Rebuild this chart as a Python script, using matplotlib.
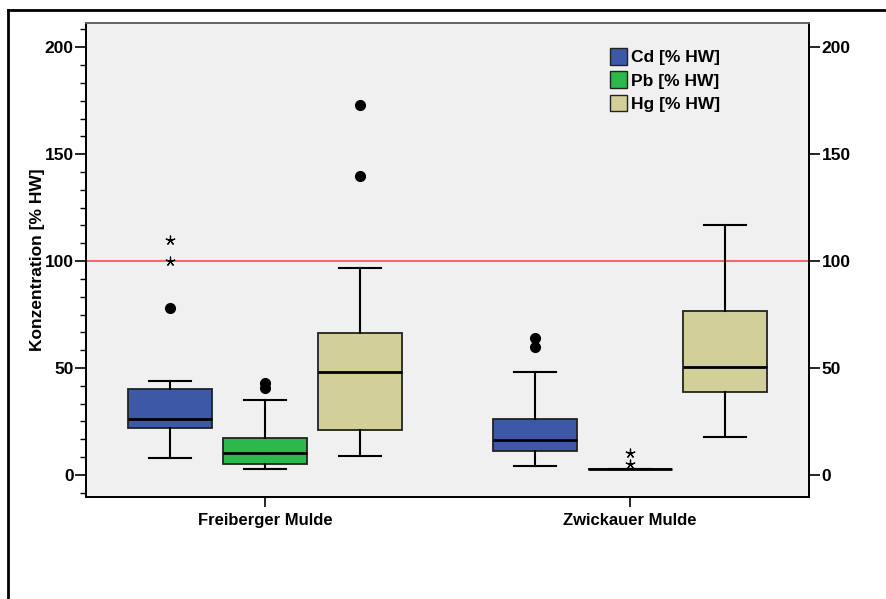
import numpy as np
import matplotlib
matplotlib.use("Agg")
import matplotlib.pyplot as plt
from matplotlib.patches import Patch
from matplotlib.lines import Line2D
from matplotlib.ticker import MultipleLocator

plt.rcParams['font.family'] = ['Liberation Sans', 'DejaVu Sans']

# Flussabschnitte und Parameter
rivers = ["Freiberger Mulde", "Zwickauer Mulde"]
elements = ["Cd [% HW]", "Pb [% HW]", "Hg [% HW]"]
colors = ["#3e58a8", "#2db84a", "#d3cf98"]

# Boxplot-Kennwerte je Fluss: [Cd, Pb, Hg]
whislo = [[8.1, 2.7, 9.0], [4.2, 2.7, 17.9]]
q1 = [[22.1, 5.3, 20.9], [11.2, 2.7, 38.6]]
med = [[26.2, 10.1, 48.1], [16.2, 2.7, 50.5]]
q3 = [[40.0, 17.4, 66.2], [26.0, 2.7, 76.6]]
whishi = [[43.9, 35.0, 96.9], [48.1, 2.7, 116.7]]

# Ausreisser (Kreise) und Extremwerte (Sterne)
outliers = [[[77.9], [43.1, 40.8], [172.9, 139.7]],
            [[63.9, 60.0], [], []]]
extremes = [[[109.8, 100.0], [], []],
            [[], [10.1, 5.0], []]]

threshold = 100

fig = plt.figure(figsize=(8.86, 5.99), dpi=100)
ax = fig.add_axes([0.0971, 0.1708, 0.8160, 0.7913])
ax.set_facecolor("#f0f0f0")

offsets = [-0.26, 0.0, 0.26]
width = 0.23

ax.axhline(threshold, color="#ff3b3b", lw=1.1, zorder=1)

for i, river in enumerate(rivers):
    for j in range(3):
        pos = i + offsets[j]
        stats = [dict(whislo=whislo[i][j], q1=q1[i][j], med=med[i][j],
                      q3=q3[i][j], whishi=whishi[i][j], fliers=outliers[i][j])]
        bp = ax.bxp(stats, positions=[pos], widths=width, patch_artist=True,
                    showfliers=True,
                    boxprops=dict(facecolor=colors[j], edgecolor="#222222", lw=1.3),
                    medianprops=dict(color="black", lw=2),
                    whiskerprops=dict(color="black", lw=1.5),
                    capprops=dict(color="black", lw=1.5),
                    flierprops=dict(marker="o", markerfacecolor="black",
                                    markeredgecolor="black", markersize=7))
        for cap in bp["caps"]:
            x0, x1 = cap.get_xdata()
            c = (x0 + x1) / 2
            cap.set_xdata([c - width * 0.25, c + width * 0.25])
        ext = extremes[i][j]
        if ext:
            ax.scatter([pos] * len(ext), ext, marker=(5, 2, 0), s=40,
                       color="black", lw=0.9, zorder=5)

ax.set_xlim(-0.49, 1.49)
ax.set_ylim(-10.2, 211.5)
ax.set_xticks([0, 1])
ax.set_xticklabels(rivers, fontweight="bold", fontsize=12)
ax.tick_params(axis="x", length=7, width=1.2, pad=5)

ax.set_yticks([0, 50, 100, 150, 200])
ax.yaxis.set_minor_locator(MultipleLocator(50 / 6))
ax.tick_params(axis="y", which="major", length=8, width=1.2, labelsize=12.5, pad=1)
ax.tick_params(axis="y", which="minor", length=4, width=1.0)
for lab in ax.get_yticklabels():
    lab.set_fontweight("bold")
ax.set_ylabel("Konzentration [% HW]", fontweight="bold", fontsize=12.5)
ax.yaxis.set_label_coords(-0.057, 0.5)

ax2 = ax.twinx()
ax2.set_ylim(ax.get_ylim())
ax2.set_yticks([0, 50, 100, 150, 200])
ax2.tick_params(axis="y", length=8, width=1.2, labelsize=12.5, pad=1)
for lab in ax2.get_yticklabels():
    lab.set_fontweight("bold")

for a in (ax, ax2):
    for side in ("left", "bottom", "right"):
        a.spines[side].set_linewidth(1.3)
        a.spines[side].set_color("black")
    a.spines["top"].set_color("#666666")
    a.spines["top"].set_linewidth(1.3)

handles = [Patch(facecolor=c, edgecolor="#222222", lw=1) for c in colors]
ax.legend(handles, elements, loc="upper left", bbox_to_anchor=(0.708, 0.972),
          frameon=False, prop=dict(weight="bold", size=12.5),
          handlelength=0.95, handleheight=1.1, handletextpad=0.25,
          labelspacing=0.35, borderpad=0.2)

# Rahmen links und oben
fig.add_artist(Line2D([8 / 886, 8 / 886], [0, 1 - 10 / 599], color="black", lw=2))
fig.add_artist(Line2D([8 / 886, 1], [1 - 10 / 599, 1 - 10 / 599], color="black", lw=2))

fig.savefig("out.png", dpi=100)
